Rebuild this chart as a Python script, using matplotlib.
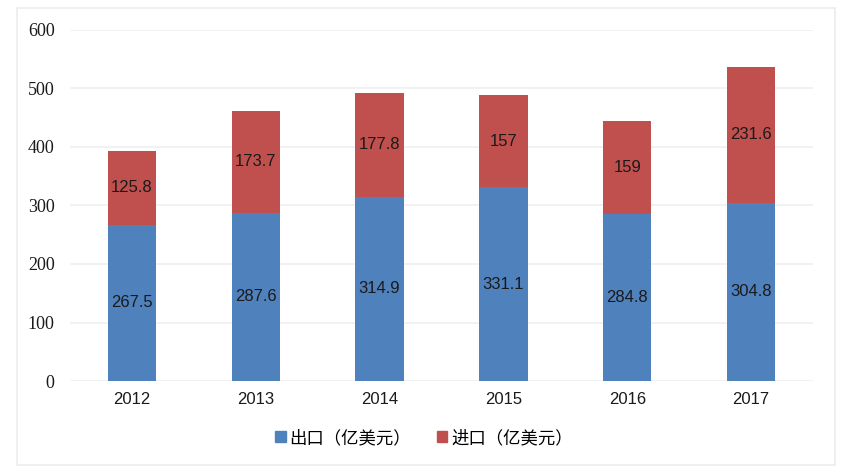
import matplotlib.pyplot as plt
import matplotlib.patches as mpatches
import numpy as np

years = ['2012', '2013', '2014', '2015', '2016', '2017']
exports = [267.5, 287.6, 314.9, 331.1, 284.8, 304.8]
imports = [125.8, 173.7, 177.8, 157, 159, 231.6]
export_label = '出口（亿美元）'
import_label = '进口（亿美元）'

blue = '#4f81bd'
red = '#c0504d'

fig = plt.figure(figsize=(8.62, 4.74), dpi=100)
ax = fig.add_axes([70 / 862, 1 - 381 / 474, 743 / 862, 351 / 474])

x = np.arange(len(years))
w = 0.39
ax.bar(x, exports, w, color=blue, label=export_label, zorder=3)
ax.bar(x, imports, w, bottom=exports, color=red, label=import_label, zorder=3)

for i in range(len(years)):
    ax.text(x[i], exports[i] / 2, f'{exports[i]:g}', ha='center', va='center',
            fontsize=12, family='Liberation Sans', color='#1a1a1a', zorder=4)
    ax.text(x[i], exports[i] + imports[i] / 2, f'{imports[i]:g}', ha='center', va='center',
            fontsize=12, family='Liberation Sans', color='#1a1a1a', zorder=4)

ax.set_xlim(-0.5, len(years) - 0.5)
ax.set_ylim(0, 600)
ax.set_yticks(range(0, 601, 100))
ax.set_xticks(x)
ax.set_xticklabels(years, family='Liberation Sans', fontsize=12, color='#1a1a1a')
for lbl in ax.get_yticklabels():
    lbl.set_family('Liberation Serif')
    lbl.set_fontsize(13)
    lbl.set_color('#1a1a1a')
ax.tick_params(axis='both', length=0)
ax.tick_params(axis='y', pad=11)
ax.tick_params(axis='x', pad=8)
ax.grid(axis='y', color='#f0f0f0', linewidth=1.2, zorder=0)
for s in ax.spines.values():
    s.set_visible(False)

handles = [mpatches.Patch(color=blue, label=export_label),
           mpatches.Patch(color=red, label=import_label)]
fig.legend(handles=handles, loc='center', bbox_to_anchor=(424 / 862, 1 - 438 / 474),
           ncol=2, frameon=False, handlelength=0.6, handleheight=0.6,
           handletextpad=0.2, columnspacing=1.5,
           prop={'family': ['Noto Sans CJK SC', 'DejaVu Sans'], 'size': 12.5})

fig.patches.append(mpatches.Rectangle((17 / 862, 1 - 465 / 474), 818 / 862, 457 / 474,
                                      transform=fig.transFigure, fill=False,
                                      edgecolor='#ececec', linewidth=1.2))

fig.savefig('out.png', dpi=100)
